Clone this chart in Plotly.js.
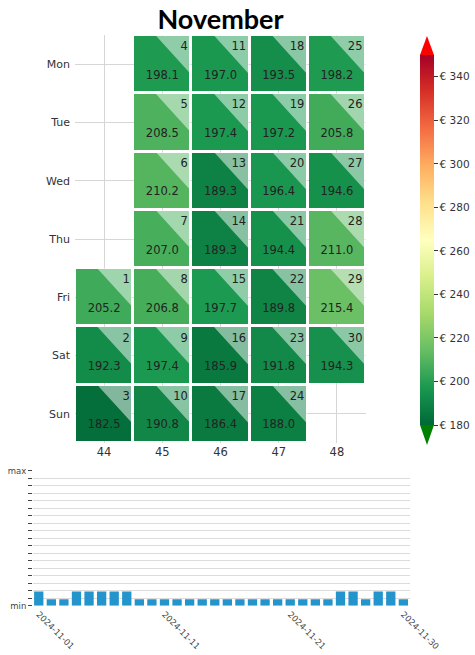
<!DOCTYPE html>
<html>
<head>
<meta charset="utf-8">
<script src="https://cdn.plot.ly/plotly-3.0.1.min.js"></script>
<style>html,body{margin:0;padding:0;background:#fff;}#chart{width:475px;height:655px;}</style>
</head>
<body>
<div id="chart"></div>
<script>
// ---- data ----
const year = 2024, monthIndex = 10; // November
const weekdays = ['Mon','Tue','Wed','Thu','Fri','Sat','Sun'];
const days = [1,2,3,4,5,6,7,8,9,10,11,12,13,14,15,16,17,18,19,20,21,22,23,24,25,26,27,28,29,30];
const values = [205.2,192.3,182.5,198.1,208.5,210.2,207.0,206.8,197.4,190.8,
                197.0,197.4,189.3,189.3,197.7,185.9,186.4,193.5,197.2,196.4,
                194.4,189.8,191.8,188.0,198.2,205.8,194.6,211.0,215.4,194.3];
const weekNumbers = [44,45,46,47,48];
const firstWeek = 44;
const barValues = [1.9,0.85,0.85,1.9,1.9,1.9,1.9,1.9,0.85,0.85,
                   0.85,0.85,0.85,0.85,0.85,0.85,0.85,0.85,0.85,0.85,
                   0.85,0.85,0.85,0.85,1.9,1.9,0.85,1.9,1.9,0.85];
const cbTicks = [180,200,220,240,260,280,300,320,340];
const cbTickText = cbTicks.map(v => '€ ' + v);
const zMin = 180, zMax = 350;

// ---- derived positions ----
const pad = n => (n < 10 ? '0' : '') + n;
const dateStr = days.map(d => `${year}-${pad(monthIndex+1)}-${pad(d)}`);
const firstWd = (new Date(Date.UTC(year, monthIndex, 1)).getUTCDay() + 6) % 7;
const wd = days.map(d => (firstWd + d - 1) % 7);
const wk = days.map(d => firstWeek + Math.floor((firstWd + d - 1) / 7));

const z = weekdays.map(() => weekNumbers.map(() => null));
days.forEach((d, i) => { z[wd[i]][weekNumbers.indexOf(wk[i])] = values[i]; });

const cs = ['#006837','#1a9850','#66bd63','#a6d96a','#d9ef8b','#ffffbf','#fee08b','#fdae61','#f46d43','#d73027','#a50026']
  .map((c, i, a) => [i / (a.length - 1), c]);

// triangles (lighter corner)
const tx = [], ty = [];
days.forEach((d, i) => {
  tx.push(wk[i] - 0.12, wk[i] + 0.5, wk[i] + 0.5, wk[i] - 0.12, null);
  ty.push(wd[i] - 0.5, wd[i] - 0.5, wd[i] + 0.18, wd[i] - 0.5, null);
});

const font = 'DejaVu Sans, sans-serif';
const W = 475, H = 655;

const traces = [
  {
    type: 'heatmap', x: weekNumbers, y: [0,1,2,3,4,5,6], z: z,
    xaxis: 'x', yaxis: 'y', colorscale: cs, zmin: zMin, zmax: zMax,
    xgap: 3, ygap: 3, hoverinfo: 'skip',
    colorbar: {
      x: 420 / W, xanchor: 'left', xpad: 0,
      y: 1 - 240 / H, yanchor: 'middle', len: 370 / H, lenmode: 'fraction', ypad: 0,
      thickness: 14, outlinewidth: 0, ticks: 'outside', ticklen: 4, tickcolor: '#333',
      tickmode: 'array', tickvals: cbTicks, ticktext: cbTickText,
      tickfont: {family: font, size: 10.5, color: '#333'}
    }
  },
  {
    type: 'scatter', mode: 'lines', x: tx, y: ty, xaxis: 'x', yaxis: 'y',
    fill: 'toself', fillcolor: 'rgba(255,255,255,0.5)', line: {width: 0},
    hoverinfo: 'skip', showlegend: false, connectgaps: false
  },
  {
    type: 'scatter', mode: 'text', x: wk.map(w => w + 0.44), y: wd.map(v => v - 0.29),
    text: days.map(String), textposition: 'middle left', xaxis: 'x', yaxis: 'y',
    textfont: {family: font, size: 11.5, color: '#222'}, hoverinfo: 'skip', showlegend: false
  },
  {
    type: 'scatter', mode: 'text', x: wk, y: wd.map(v => v + 0.2),
    text: values.map(v => v.toFixed(1)), textposition: 'middle center', xaxis: 'x', yaxis: 'y',
    textfont: {family: font, size: 11.5, color: '#222'}, hoverinfo: 'skip', showlegend: false
  },
  {
    type: 'bar', x: dateStr, y: barValues, xaxis: 'x2', yaxis: 'y2',
    marker: {color: '#2394cc', line: {width: 0}}, hoverinfo: 'skip', showlegend: false
  }
];

const yTickVals = [], yTickText = [];
for (let i = 0; i <= 18; i++) { yTickVals.push(i); yTickText.push(i === 0 ? 'min' : (i === 18 ? 'max' : '')); }

const layout = {
  width: W, height: H,
  margin: {l: 0, r: 0, t: 0, b: 0},
  paper_bgcolor: '#fff', plot_bgcolor: 'rgba(0,0,0,0)',
  showlegend: false,
  bargap: 0.26,
  title: {
    text: '<b>November</b>', x: 220.5 / W, xanchor: 'center', xref: 'paper',
    y: 1 - 20 / H, yanchor: 'middle',
    font: {family: 'Lato, sans-serif', size: 27, color: '#000'}
  },
  xaxis: {
    domain: [75 / W, 366 / W], range: [43.5, 48.5], anchor: 'y',
    tickvals: weekNumbers, ticks: '', showgrid: true, gridcolor: '#d6d6d6', gridwidth: 1,
    zeroline: false, showline: false, fixedrange: true,
    tickfont: {family: font, size: 11.5, color: '#333'}
  },
  yaxis: {
    domain: [1 - 443 / H, 1 - 35 / H], range: [6.5, -0.5], anchor: 'x',
    tickvals: [0,1,2,3,4,5,6], ticktext: weekdays, ticks: '', ticklabelstandoff: 4,
    showgrid: true, gridcolor: '#d6d6d6', gridwidth: 1, zeroline: false, showline: false,
    fixedrange: true, tickfont: {family: font, size: 11, color: '#333'}
  },
  xaxis2: {
    type: 'date', domain: [33 / W, 410 / W], anchor: 'y2',
    range: ['2024-10-31 13:00', '2024-11-30 12:40'],
    tickvals: ['2024-11-01', '2024-11-11', '2024-11-21', '2024-11-30'],
    tickformat: '%Y-%m-%d', tickangle: 45, ticks: '', ticklabelstandoff: 1,
    showgrid: false, zeroline: false, showline: false, fixedrange: true,
    tickfont: {family: font, size: 8.5, color: '#444'}
  },
  yaxis2: {
    domain: [1 - 605.7 / H, 1 - 470.7 / H], range: [0, 18], anchor: 'x2',
    tickvals: yTickVals, ticktext: yTickText, ticks: 'outside', ticklen: 4, tickwidth: 1.3,
    tickcolor: '#444', showgrid: true, gridcolor: '#dcdcdc', gridwidth: 1, zeroline: false,
    showline: false, fixedrange: true,
    tickfont: {family: font, size: 8.5, color: '#444'}
  },
  shapes: [
    {type: 'path', xref: 'paper', yref: 'paper',
     path: `M ${420/W},${1-55/H} L ${434/W},${1-55/H} L ${427/W},${1-36/H} Z`,
     fillcolor: '#ff0000', line: {width: 0}},
    {type: 'path', xref: 'paper', yref: 'paper',
     path: `M ${420/W},${1-425/H} L ${434/W},${1-425/H} L ${427/W},${1-445/H} Z`,
     fillcolor: '#008000', line: {width: 0}}
  ]
};

Plotly.newPlot('chart', traces, layout, {displayModeBar: false, staticPlot: true});
</script>
</body>
</html>
